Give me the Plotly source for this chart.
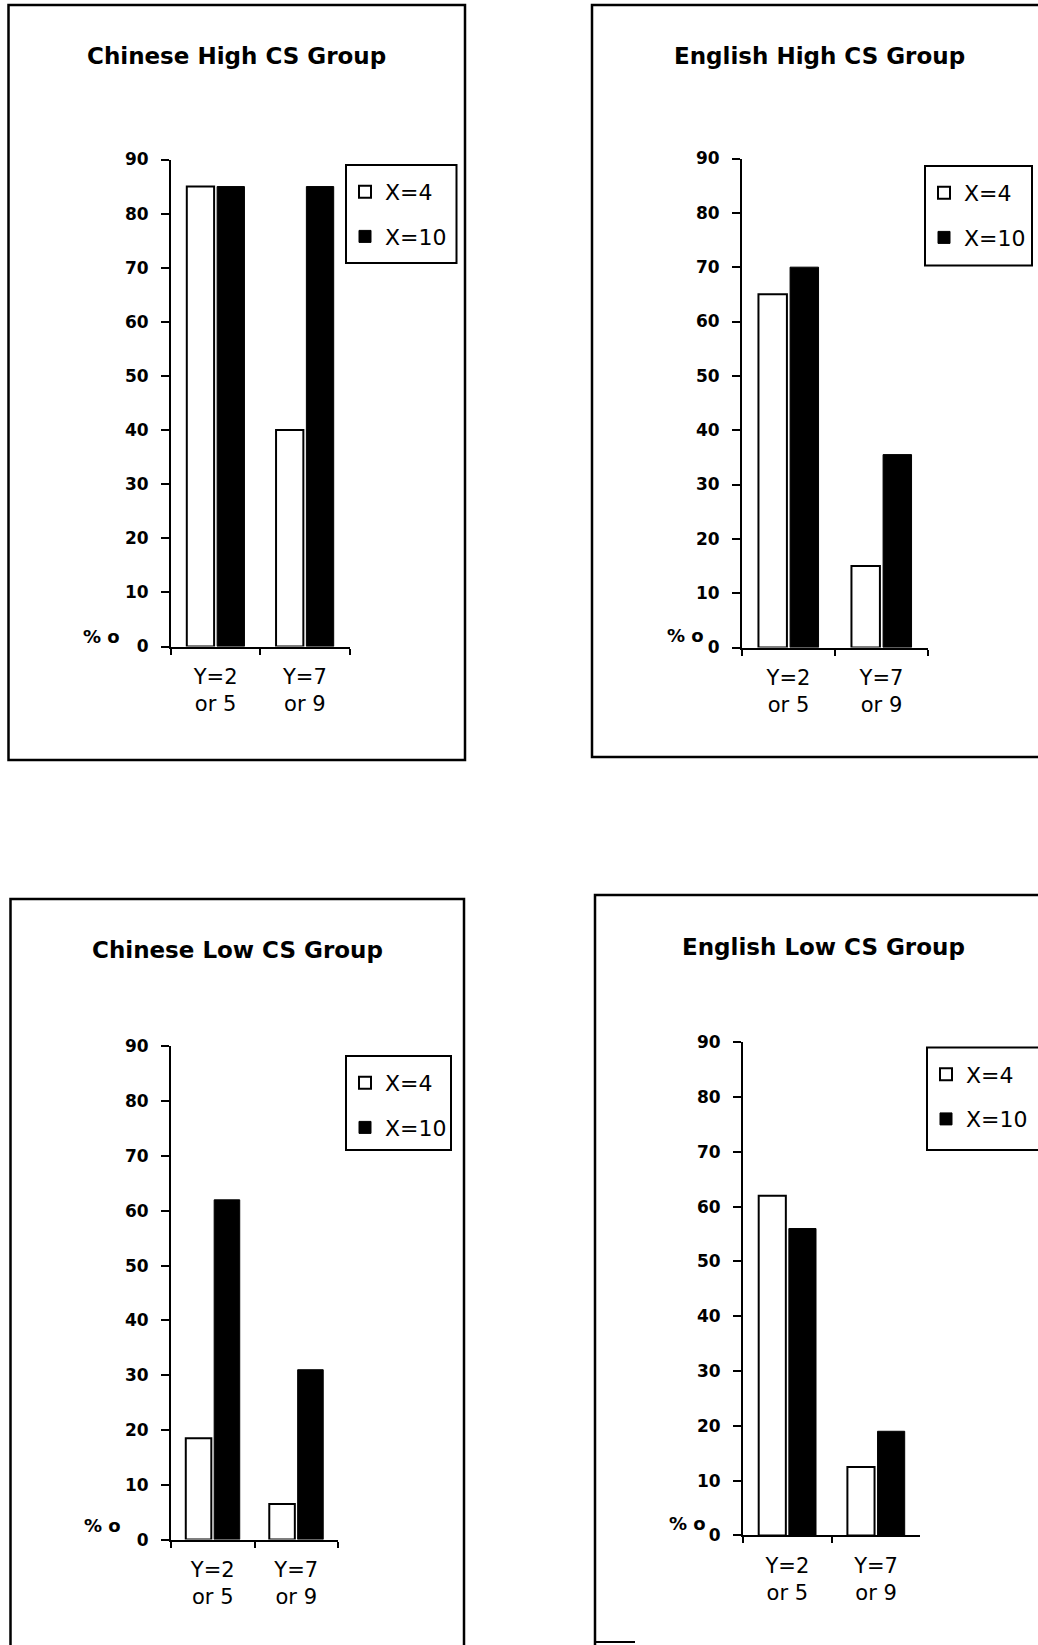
import plotly.graph_objects as go

# ---------------- data ----------------
categories = ["Y=2<br>or 5", "Y=7<br>or 9"]
series_names = ["X=4", "X=10"]
y_ticks = [0, 10, 20, 30, 40, 50, 60, 70, 80, 90]
panel_titles = ["Chinese High CS Group", "English High CS Group",
                "Chinese Low CS Group", "English Low CS Group"]
axis_label = "% o"

chinese_high_x4 = [85, 40]
chinese_high_x10 = [85, 85]
english_high_x4 = [65, 15]
english_high_x10 = [70, 35.5]
chinese_low_x4 = [18.5, 6.5]
chinese_low_x10 = [62, 31]
english_low_x4 = [62, 12.5]
english_low_x10 = [56, 19]

panel_values = [
    (chinese_high_x4, chinese_high_x10),
    (english_high_x4, english_high_x10),
    (chinese_low_x4, chinese_low_x10),
    (english_low_x4, english_low_x10),
]

# ---------------- layout geometry (pixels) ----------------
W, H = 1038, 1645
FONT = "DejaVu Sans"

# plot area: (x_left, x_right, y_bottom(0), y_top(90))
plot_px = [
    (171, 349.5, 646.5, 159.5),
    (742, 928, 647.5, 158.5),
    (171, 338, 1539.6, 1046.4),
    (743, 920.4, 1535.4, 1042.2),
]
# frame rectangles (x0, y0, x1, y1)
frame_px = [
    (8.5, 5, 465, 760),
    (592, 5, 1060, 757),
    (10.5, 899, 464, 1670),
    (595, 895, 1060, 1670),
]
# small stray frame segment at the bottom of the last panel (x0, x1, y)
stray_seg_px = (595, 635, 1642)
title_px = [(236, 56), (819, 56), (237, 950), (823, 947)]
pct_px = [(101, 636), (685, 635), (102, 1525), (687, 1523)]
# legend boxes (x0, y0, x1, y1)
legbox_px = [(346, 165, 456.5, 263), (925, 166, 1032, 265.5),
             (346, 1056, 451, 1150), (927, 1047.5, 1050, 1150)]


def px_x(x):
    return x / W


def px_y(y):
    return 1 - y / H


fig = go.Figure()

for i, (vals4, vals10) in enumerate(panel_values):
    n = "" if i == 0 else str(i + 1)
    xa, ya = "x" + n, "y" + n
    leg = "legend" + n
    fig.add_trace(go.Bar(
        x=categories, y=vals4, name=series_names[0],
        marker=dict(color="white", line=dict(color="black", width=2)),
        xaxis=xa, yaxis=ya, legend=leg, legendgroup="a" + n,
    ))
    fig.add_trace(go.Bar(
        x=categories, y=vals10, name=series_names[1],
        marker=dict(color="black", line=dict(color="black", width=1)),
        xaxis=xa, yaxis=ya, legend=leg, legendgroup="b" + n,
    ))

layout = dict(
    width=W, height=H, autosize=False,
    margin=dict(l=0, r=0, t=0, b=0, pad=0, autoexpand=False),
    paper_bgcolor="white", plot_bgcolor="white",
    barmode="group", bargap=0.32, bargroupgap=0.1,
    showlegend=True,
    font=dict(family=FONT, color="black"),
)

shapes = []
annotations = []
for i in range(4):
    n = "" if i == 0 else str(i + 1)
    xl, xr, yb, yt = plot_px[i]
    layout["xaxis" + n] = dict(
        domain=[px_x(xl), px_x(xr)], anchor="y" + n,
        range=[-0.5, 1.5], type="category", automargin=False,
        showline=True, linecolor="black", linewidth=2,
        ticks="outside", ticklen=6, tickwidth=2, tickcolor="black",
        tickson="boundaries", showgrid=False, zeroline=False,
        tickfont=dict(family=FONT, size=21, color="black"),
        ticklabelstandoff=10,
        fixedrange=True,
    )
    layout["yaxis" + n] = dict(
        domain=[px_y(yb), px_y(yt)], anchor="x" + n,
        range=[0, 90], tickvals=y_ticks, automargin=False,
        showline=True, linecolor="black", linewidth=2,
        ticks="outside", ticklen=8, tickwidth=2, tickcolor="black",
        showgrid=False, zeroline=False,
        tickfont=dict(family=FONT, size=17, color="black", weight="bold"),
        ticklabelstandoff=9,
        fixedrange=True,
    )
    bx0, by0, bx1, by1 = legbox_px[i]
    layout["legend" + n] = dict(
        x=px_x(bx0 - 1), y=px_y(by0 + 6), xanchor="left", yanchor="top",
        bgcolor="rgba(0,0,0,0)", borderwidth=0,
        font=dict(family=FONT, size=22, color="black"),
        traceorder="grouped", tracegroupgap=13,
        itemwidth=30,
    )
    shapes.append(dict(
        type="rect", xref="paper", yref="paper",
        x0=px_x(bx0), x1=px_x(bx1), y0=px_y(by0), y1=px_y(by1),
        line=dict(color="black", width=2), fillcolor="white",
        layer="above",
    ))
    fx0, fy0, fx1, fy1 = frame_px[i]
    shapes.append(dict(
        type="rect", xref="paper", yref="paper",
        x0=px_x(fx0), x1=px_x(fx1), y0=px_y(fy0), y1=px_y(fy1),
        line=dict(color="black", width=2.5), fillcolor="rgba(0,0,0,0)",
        layer="below",
    ))
    tx, ty = title_px[i]
    annotations.append(dict(
        text="<b>" + panel_titles[i] + "</b>", xref="paper", yref="paper",
        x=px_x(tx), y=px_y(ty), xanchor="center", yanchor="middle",
        showarrow=False, font=dict(family=FONT, size=23, color="black"),
    ))
    pxx, pyy = pct_px[i]
    annotations.append(dict(
        text="<b>" + axis_label + "</b>", xref="paper", yref="paper",
        x=px_x(pxx), y=px_y(pyy), xanchor="center", yanchor="middle",
        showarrow=False, font=dict(family=FONT, size=18, color="black"),
    ))

sx0, sx1, sy = stray_seg_px
shapes.append(dict(
    type="line", xref="paper", yref="paper",
    x0=px_x(sx0), x1=px_x(sx1), y0=px_y(sy), y1=px_y(sy),
    line=dict(color="black", width=2),
))

layout["shapes"] = shapes
layout["annotations"] = annotations
fig.update_layout(**layout)

fig.write_html(
    "out.html",
    config={"displayModeBar": False, "responsive": False},
    post_script="document.body.style.margin='0';document.body.style.overflow='hidden';",
)
